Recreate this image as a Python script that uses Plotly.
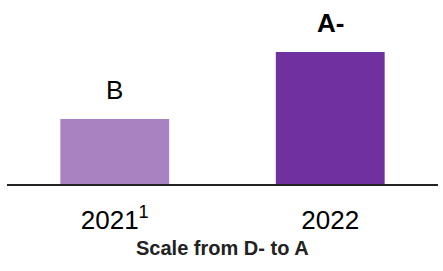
import plotly.graph_objects as go

categories = ["2021<sup>1</sup>", "2022"]
heights = [65, 132]          # relative bar heights
grades = ["B", "<b>A-</b>"]
colors = ["#A882C1", "#7030A0"]

FONT = "Liberation Sans, Arial, sans-serif"

fig = go.Figure()
fig.add_trace(go.Bar(
    x=categories, y=heights,
    marker=dict(color=colors, line=dict(width=0)),
    width=0.505,
    hoverinfo="skip",
))

for i, (h, g) in enumerate(zip(heights, grades)):
    fig.add_annotation(x=i, y=h, text=g, showarrow=False,
                       yanchor="middle", yshift=29,
                       font=dict(family=FONT, size=26, color="black"))

fig.add_annotation(x=0.5, xref="paper", y=-(248 - 184) / 184, yref="paper",
                   text="<b>Scale from D- to A</b>", yanchor="middle",
                   showarrow=False, font=dict(family=FONT, size=20, color="#222"))

fig.update_layout(
    width=443, height=271,
    margin=dict(l=7, r=5, t=0, b=87, autoexpand=False),
    paper_bgcolor="white", plot_bgcolor="white",
    showlegend=False,
    font=dict(family=FONT, color="black"),
    xaxis=dict(type="category", showline=True, linecolor="#222", linewidth=2, showgrid=False,
               automargin=False,
               ticks="", tickfont=dict(family=FONT, size=26, color="black"),
               ticklabelstandoff=12, fixedrange=True),
    yaxis=dict(range=[0, 184], visible=False, showgrid=False, zeroline=False,
               automargin=False, fixedrange=True),
)

fig.write_html("out.html", config={"displayModeBar": False, "staticPlot": True},
               post_script="document.body.style.margin='0';")
